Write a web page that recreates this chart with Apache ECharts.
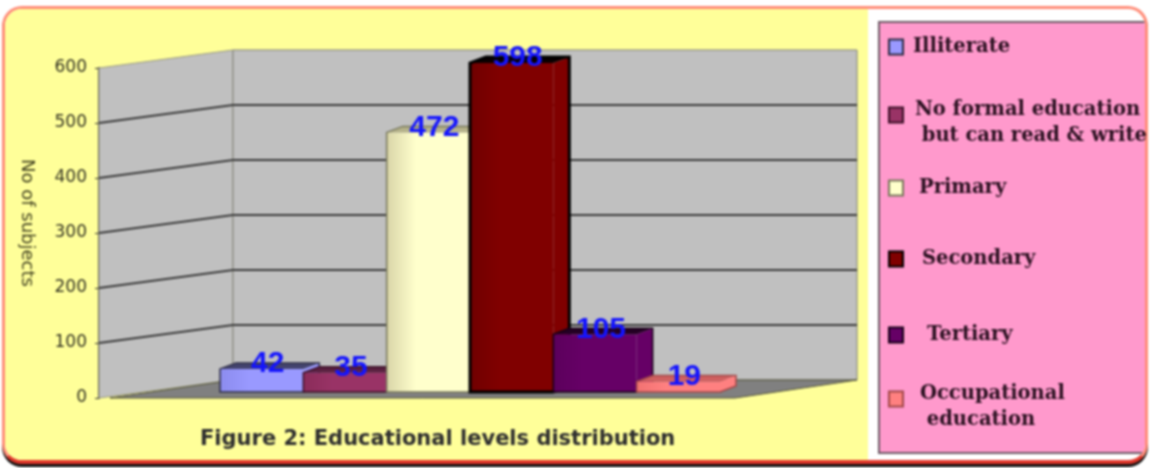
<!DOCTYPE html>
<html>
<head>
<meta charset="utf-8">
<title>Educational levels distribution</title>
<script src="https://cdn.jsdelivr.net/npm/echarts@6/dist/echarts.min.js"></script>
<style>
  html, body { margin: 0; padding: 0; background: #fff; }
  #wrap { position: relative; width: 1150px; height: 468px; overflow: hidden; filter: blur(0.8px); }
  #frame { position: absolute; left: 2px; top: 6px; width: 1146px; height: 458px; box-sizing: border-box;
           background: #fff; border: 3px solid #ff8c78; border-bottom: 4px solid #e0362a; border-radius: 20px;
           box-shadow: 0 3px 0 #111; overflow: hidden; }
  #yellow { position: absolute; left: 0; top: 0; width: 863px; height: 100%; background: #ffff99; }
  #pink { position: absolute; left: 873px; top: 12px; width: 280px; height: 433px; box-sizing: border-box;
          background: #ff99cc; border: 2px solid #6e5a66; }
  #chart { position: absolute; left: 0; top: 0; width: 1150px; height: 468px; }
</style>
</head>
<body>
<div id="wrap">
  <div id="frame"><div id="yellow"></div><div id="pink"></div></div>
  <div id="chart"></div>
</div>
<script>
  // values
  var levels = ['Illiterate', 'No formal education\n\u00a0but can read & write', 'Primary', 'Secondary', 'Tertiary', 'Occupational\n\u00a0education'];
  var values = [42, 35, 472, 598, 105, 19];
  var yTicks = [100, 200, 300, 400, 500];

  var fronts = ['#9999ff', '#993366', '#ffffcc', '#800000', '#660066', '#ff8080'];
  var shades = ['#8c8cee', '#8a2c5a', '#d9d5a8', '#700000', '#5c005c', '#f27272'];
  var tops = ['#44446e', '#5a2040', '#b5b28a', '#0a0000', '#240024', '#d06060'];
  var lines = ['#2c2c44', '#3a1026', '#77775a', '#000000', '#160016', '#a04848'];
  // legend placement, one entry per level
  var legendTop = [34, 81, 175, 246, 322, 365];
  var legendPad = [5, 7, 11, 14, 19, 12];

  var DEPTH_X = 134, DEPTH_Y = -18, FLOOR_W = 624;
  var BAR_DX = 16, BAR_DY = -6;

  var legendFont = { color: '#2a1020', fontFamily: '"DejaVu Serif"', fontWeight: 'bold', fontSize: 19.5, lineHeight: 26 };

  function poly(points, fill, stroke, width) {
    return { type: 'polygon', shape: { points: points }, style: { fill: fill, stroke: stroke, lineWidth: width || 0 } };
  }

  // side wall, back wall and floor of the fake 3d box
  function renderWalls(params, api) {
    var b = api.coord([0, 0]);
    var t = api.coord([0, 600]);
    var x = b[0], y0 = b[1], y6 = t[1];
    var bx = x + DEPTH_X, dy = DEPTH_Y;
    return {
      type: 'group',
      children: [
        poly([[x, y0], [bx, y0 + dy], [bx, y6 + dy], [x, y6]], '#c0c0c0', '#9a9a80', 1),
        poly([[bx, y0 + dy], [bx + FLOOR_W, y0 + dy], [bx + FLOOR_W, y6 + dy], [bx, y6 + dy]], '#c0c0c0', '#808078', 1),
        poly([[x + 11, y0], [x + 636, y0], [bx + FLOOR_W, y0 + dy], [bx, y0 + dy]], '#808080', '#55553a', 1)
      ]
    };
  }

  function renderGrid(params, api) {
    var p = api.coord([0, api.value(1)]);
    var bx = p[0] + DEPTH_X, by = p[1] + DEPTH_Y;
    return {
      type: 'polyline',
      shape: { points: [[p[0], p[1]], [bx, by], [bx + FLOOR_W, by]] },
      style: { fill: null, stroke: '#3a3a3a', lineWidth: 2 }
    };
  }

  function renderBar(idx) {
    return function (params, api) {
      var w = api.size([1, 0])[0];
      var top = api.coord([idx, api.value(1)]);
      var base = api.coord([idx, 0]);
      var l = top[0] - w / 2, r = top[0] + w / 2, yt = top[1], yb = base[1];
      var fill = new echarts.graphic.LinearGradient(0, 0, 1, 0, [
        { offset: 0, color: shades[idx] },
        { offset: 0.35, color: fronts[idx] },
        { offset: 1, color: fronts[idx] }
      ]);
      var lw = idx === 3 ? 3 : 1.5;
      return {
        type: 'group',
        children: [
          poly([[r, yb], [r + BAR_DX, yb + BAR_DY], [r + BAR_DX, yt + BAR_DY], [r, yt]], fronts[idx]),
          poly([[l, yt], [r, yt], [r, yb], [l, yb]], fill),
          poly([[l, yt], [l + BAR_DX, yt + BAR_DY], [r + BAR_DX, yt + BAR_DY], [r, yt]], tops[idx]),
          {
            type: 'polygon',
            shape: { points: [[l, yb], [l, yt], [l + BAR_DX, yt + BAR_DY], [r + BAR_DX, yt + BAR_DY], [r + BAR_DX, yb + BAR_DY], [r, yb]] },
            style: { fill: null, stroke: lines[idx], lineWidth: lw }
          },
          {
            type: 'text',
            z2: 10,
            style: {
              x: top[0] + 6, y: yt - 5,
              text: String(api.value(1)),
              fill: '#1414ff',
              font: 'bold 30px "Liberation Sans"',
              align: 'center', verticalAlign: 'middle'
            }
          }
        ]
      };
    };
  }

  var barSeries = levels.map(function (name, i) {
    return {
      name: name,
      type: 'custom',
      xAxisIndex: 1,
      yAxisIndex: 1,
      itemStyle: { color: fronts[i], borderColor: lines[i], borderWidth: 1.5 },
      renderItem: renderBar(i),
      data: [[i, values[i]]]
    };
  });

  // two line names get a short blank line on top, so the marker sits near the first line
  function legendLabel(name) {
    if (name.indexOf('\n') < 0) return name;
    return '{s| }\n' + name.split('\n').map(function (l) { return '{a|' + l + '}'; }).join('\n');
  }

  var legends = levels.map(function (name, i) {
    return {
      data: [name],
      orient: 'vertical',
      left: 888,
      top: legendTop[i],
      padding: 0,
      icon: 'rect',
      itemWidth: 14,
      itemHeight: 15,
      selectedMode: false,
      formatter: legendLabel,
      textStyle: Object.assign({}, legendFont, {
        padding: [0, 0, 0, legendPad[i]],
        rich: { a: legendFont, s: { fontSize: 10, lineHeight: 16 } }
      })
    };
  });

  var chart = echarts.init(document.getElementById('chart'));
  chart.setOption({
    animation: false,
    title: {
      text: 'Figure 2: Educational levels distribution',
      left: 195,
      top: 424,
      textStyle: { color: '#2e2e2e', fontFamily: '"DejaVu Sans"', fontWeight: 'bold', fontSize: 21 }
    },
    legend: legends,
    grid: [
      { left: 99, top: 68, width: 636, height: 330 },
      { left: 220, top: 62, width: 500, height: 330 }
    ],
    xAxis: [
      { type: 'value', gridIndex: 0, min: 0, max: 1, show: false },
      { type: 'category', gridIndex: 1, data: levels, show: false }
    ],
    yAxis: [
      {
        type: 'value',
        gridIndex: 0,
        min: 0,
        max: 600,
        interval: 100,
        name: 'No of subjects',
        nameLocation: 'middle',
        nameRotate: -90,
        nameGap: 63,
        nameTextStyle: { color: '#444422', fontFamily: '"DejaVu Sans"', fontSize: 18, padding: [0, 20, 0, 0] },
        axisLine: { show: true, lineStyle: { color: '#333333', width: 2 } },
        axisTick: { show: true, length: 4, lineStyle: { color: '#333333' } },
        axisLabel: { color: '#333322', fontFamily: '"DejaVu Sans"', fontSize: 17, margin: 12 },
        splitLine: { show: false }
      },
      { type: 'value', gridIndex: 1, min: 0, max: 600, interval: 100, show: false }
    ],
    series: [
      { type: 'custom', xAxisIndex: 0, yAxisIndex: 0, silent: true, renderItem: renderWalls, data: [[0, 0]] },
      {
        type: 'custom',
        xAxisIndex: 0,
        yAxisIndex: 0,
        silent: true,
        renderItem: renderGrid,
        data: yTicks.map(function (t) { return [0, t]; })
      }
    ].concat(barSeries)
  });
</script>
</body>
</html>
